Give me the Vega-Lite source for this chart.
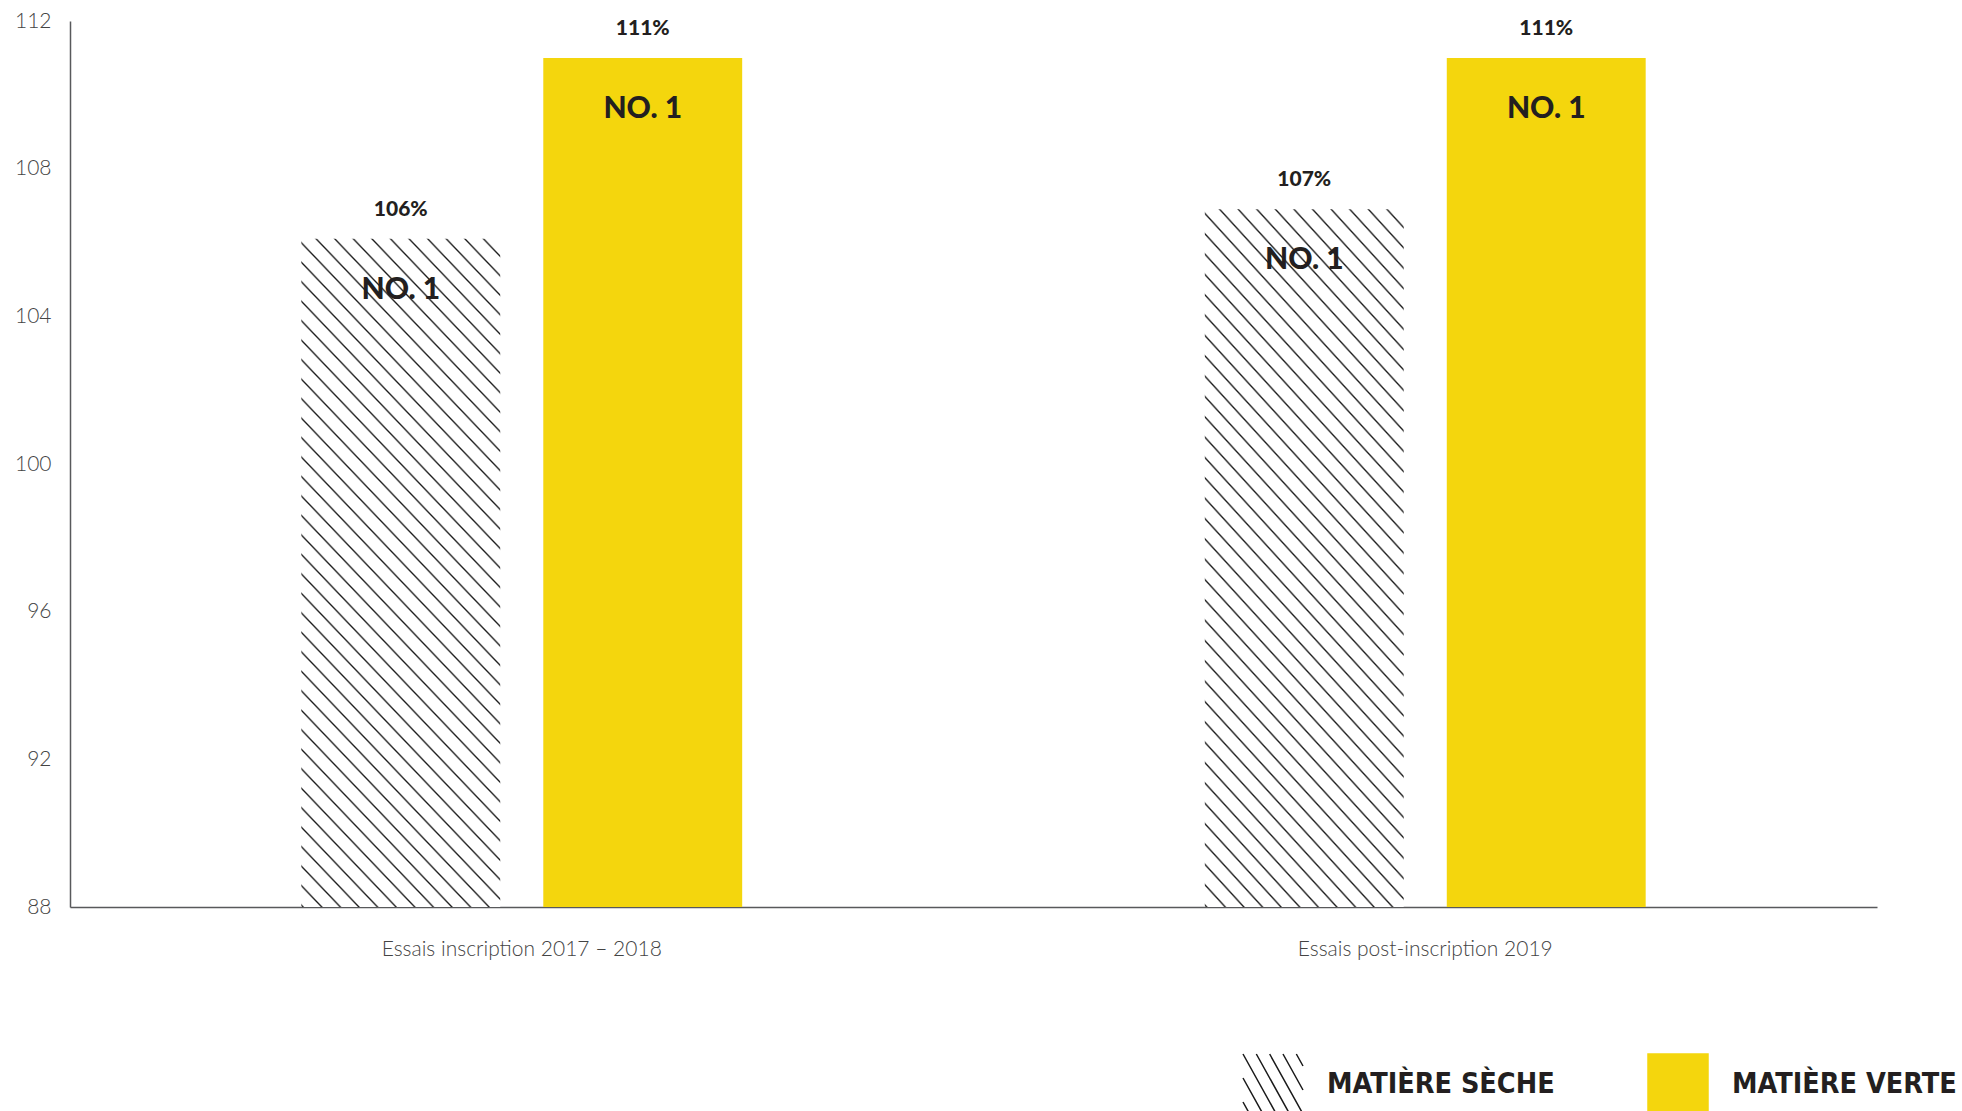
{
  "$schema": "https://vega.github.io/schema/vega-lite/v6.json",
  "width": 1807,
  "height": 886,
  "autosize": {"type": "none"},
  "padding": {"left": 70, "top": 21, "right": 85, "bottom": 204},
  "background": "white",
  "config": {"view": {"stroke": null}, "font": "Lato"},
  "data": {"values": [
    {"groupe": "Essais inscription 2017 – 2018", "type": "MATIÈRE SÈCHE", "valeur": 106.1, "etiquette": "106%", "rang": "NO. 1"},
    {"groupe": "Essais inscription 2017 – 2018", "type": "MATIÈRE VERTE", "valeur": 111, "etiquette": "111%", "rang": "NO. 1"},
    {"groupe": "Essais post-inscription 2019", "type": "MATIÈRE SÈCHE", "valeur": 106.9, "etiquette": "107%", "rang": "NO. 1"},
    {"groupe": "Essais post-inscription 2019", "type": "MATIÈRE VERTE", "valeur": 111, "etiquette": "111%", "rang": "NO. 1"}
  ]},
  "encoding": {
    "x": {
      "field": "groupe", "type": "nominal", "sort": null,
      "scale": {"paddingInner": 0, "paddingOuter": 0},
      "axis": {"title": null, "labelAngle": 0, "ticks": false, "tickSize": 0, "labelPadding": 31,
        "domainColor": "#58595b", "domainWidth": 1.5, "labelFont": "Lato", "labelFontWeight": 300,
        "labelFontSize": 21, "labelColor": "#444444", "labelLimit": 600}
    },
    "xOffset": {"field": "type", "type": "nominal", "sort": null,
      "scale": {"paddingInner": 0.178, "paddingOuter": 0.956}},
    "y": {
      "field": "valeur", "type": "quantitative",
      "scale": {"domain": [88, 112], "nice": false, "zero": false},
      "axis": {"title": null, "values": [88, 92, 96, 100, 104, 108, 112], "grid": false, "ticks": false,
        "tickSize": 0, "labelPadding": 19, "labelFlush": false, "domainColor": "#58595b", "domainWidth": 1.5,
        "labelFont": "Lato", "labelFontWeight": 300, "labelFontSize": 21, "labelColor": "#444444"}
    }
  },
  "layer": [
    {
      "mark": {"type": "bar"},
      "encoding": {
        "y2": {"datum": 88},
        "fill": {
          "condition": {
            "test": "datum.type === 'MATIÈRE SÈCHE'",
            "value": {"gradient": "linear", "x1": 1, "y1": 0, "x2": 0.6271, "y2": 1.1956, "stops": [
              {"offset": 0, "color": "#fff"},
              {"offset": 0.01778, "color": "#fff"}, {"offset": 0.02, "color": "#1a1a1a"}, {"offset": 0.02222, "color": "#fff"},
              {"offset": 0.04, "color": "#fff"}, {"offset": 0.04222, "color": "#1a1a1a"}, {"offset": 0.04444, "color": "#fff"},
              {"offset": 0.06222, "color": "#fff"}, {"offset": 0.06444, "color": "#1a1a1a"}, {"offset": 0.06667, "color": "#fff"},
              {"offset": 0.08444, "color": "#fff"}, {"offset": 0.08667, "color": "#1a1a1a"}, {"offset": 0.08889, "color": "#fff"},
              {"offset": 0.10667, "color": "#fff"}, {"offset": 0.10889, "color": "#1a1a1a"}, {"offset": 0.11111, "color": "#fff"},
              {"offset": 0.12889, "color": "#fff"}, {"offset": 0.13111, "color": "#1a1a1a"}, {"offset": 0.13333, "color": "#fff"},
              {"offset": 0.15111, "color": "#fff"}, {"offset": 0.15333, "color": "#1a1a1a"}, {"offset": 0.15556, "color": "#fff"},
              {"offset": 0.17333, "color": "#fff"}, {"offset": 0.17556, "color": "#1a1a1a"}, {"offset": 0.17778, "color": "#fff"},
              {"offset": 0.19556, "color": "#fff"}, {"offset": 0.19778, "color": "#1a1a1a"}, {"offset": 0.2, "color": "#fff"},
              {"offset": 0.21778, "color": "#fff"}, {"offset": 0.22, "color": "#1a1a1a"}, {"offset": 0.22222, "color": "#fff"},
              {"offset": 0.24, "color": "#fff"}, {"offset": 0.24222, "color": "#1a1a1a"}, {"offset": 0.24444, "color": "#fff"},
              {"offset": 0.26222, "color": "#fff"}, {"offset": 0.26444, "color": "#1a1a1a"}, {"offset": 0.26667, "color": "#fff"},
              {"offset": 0.28444, "color": "#fff"}, {"offset": 0.28667, "color": "#1a1a1a"}, {"offset": 0.28889, "color": "#fff"},
              {"offset": 0.30667, "color": "#fff"}, {"offset": 0.30889, "color": "#1a1a1a"}, {"offset": 0.31111, "color": "#fff"},
              {"offset": 0.32889, "color": "#fff"}, {"offset": 0.33111, "color": "#1a1a1a"}, {"offset": 0.33333, "color": "#fff"},
              {"offset": 0.35111, "color": "#fff"}, {"offset": 0.35333, "color": "#1a1a1a"}, {"offset": 0.35556, "color": "#fff"},
              {"offset": 0.37333, "color": "#fff"}, {"offset": 0.37556, "color": "#1a1a1a"}, {"offset": 0.37778, "color": "#fff"},
              {"offset": 0.39556, "color": "#fff"}, {"offset": 0.39778, "color": "#1a1a1a"}, {"offset": 0.4, "color": "#fff"},
              {"offset": 0.41778, "color": "#fff"}, {"offset": 0.42, "color": "#1a1a1a"}, {"offset": 0.42222, "color": "#fff"},
              {"offset": 0.44, "color": "#fff"}, {"offset": 0.44222, "color": "#1a1a1a"}, {"offset": 0.44444, "color": "#fff"},
              {"offset": 0.46222, "color": "#fff"}, {"offset": 0.46444, "color": "#1a1a1a"}, {"offset": 0.46667, "color": "#fff"},
              {"offset": 0.48444, "color": "#fff"}, {"offset": 0.48667, "color": "#1a1a1a"}, {"offset": 0.48889, "color": "#fff"},
              {"offset": 0.50667, "color": "#fff"}, {"offset": 0.50889, "color": "#1a1a1a"}, {"offset": 0.51111, "color": "#fff"},
              {"offset": 0.52889, "color": "#fff"}, {"offset": 0.53111, "color": "#1a1a1a"}, {"offset": 0.53333, "color": "#fff"},
              {"offset": 0.55111, "color": "#fff"}, {"offset": 0.55333, "color": "#1a1a1a"}, {"offset": 0.55556, "color": "#fff"},
              {"offset": 0.57333, "color": "#fff"}, {"offset": 0.57556, "color": "#1a1a1a"}, {"offset": 0.57778, "color": "#fff"},
              {"offset": 0.59556, "color": "#fff"}, {"offset": 0.59778, "color": "#1a1a1a"}, {"offset": 0.6, "color": "#fff"},
              {"offset": 0.61778, "color": "#fff"}, {"offset": 0.62, "color": "#1a1a1a"}, {"offset": 0.62222, "color": "#fff"},
              {"offset": 0.64, "color": "#fff"}, {"offset": 0.64222, "color": "#1a1a1a"}, {"offset": 0.64444, "color": "#fff"},
              {"offset": 0.66222, "color": "#fff"}, {"offset": 0.66444, "color": "#1a1a1a"}, {"offset": 0.66667, "color": "#fff"},
              {"offset": 0.68444, "color": "#fff"}, {"offset": 0.68667, "color": "#1a1a1a"}, {"offset": 0.68889, "color": "#fff"},
              {"offset": 0.70667, "color": "#fff"}, {"offset": 0.70889, "color": "#1a1a1a"}, {"offset": 0.71111, "color": "#fff"},
              {"offset": 0.72889, "color": "#fff"}, {"offset": 0.73111, "color": "#1a1a1a"}, {"offset": 0.73333, "color": "#fff"},
              {"offset": 0.75111, "color": "#fff"}, {"offset": 0.75333, "color": "#1a1a1a"}, {"offset": 0.75556, "color": "#fff"},
              {"offset": 0.77333, "color": "#fff"}, {"offset": 0.77556, "color": "#1a1a1a"}, {"offset": 0.77778, "color": "#fff"},
              {"offset": 0.79556, "color": "#fff"}, {"offset": 0.79778, "color": "#1a1a1a"}, {"offset": 0.8, "color": "#fff"},
              {"offset": 0.81778, "color": "#fff"}, {"offset": 0.82, "color": "#1a1a1a"}, {"offset": 0.82222, "color": "#fff"},
              {"offset": 0.84, "color": "#fff"}, {"offset": 0.84222, "color": "#1a1a1a"}, {"offset": 0.84444, "color": "#fff"},
              {"offset": 0.86222, "color": "#fff"}, {"offset": 0.86444, "color": "#1a1a1a"}, {"offset": 0.86667, "color": "#fff"},
              {"offset": 0.88444, "color": "#fff"}, {"offset": 0.88667, "color": "#1a1a1a"}, {"offset": 0.88889, "color": "#fff"},
              {"offset": 0.90667, "color": "#fff"}, {"offset": 0.90889, "color": "#1a1a1a"}, {"offset": 0.91111, "color": "#fff"},
              {"offset": 0.92889, "color": "#fff"}, {"offset": 0.93111, "color": "#1a1a1a"}, {"offset": 0.93333, "color": "#fff"},
              {"offset": 0.95111, "color": "#fff"}, {"offset": 0.95333, "color": "#1a1a1a"}, {"offset": 0.95556, "color": "#fff"},
              {"offset": 0.97333, "color": "#fff"}, {"offset": 0.97556, "color": "#1a1a1a"}, {"offset": 0.97778, "color": "#fff"},
              {"offset": 0.99556, "color": "#fff"}, {"offset": 0.99778, "color": "#1a1a1a"}, {"offset": 1, "color": "#fff"}
            ]}
          },
          "value": "#f4d60d"
        }
      }
    },
    {
      "mark": {"type": "point", "filled": true, "opacity": 0, "size": 1},
      "encoding": {
        "shape": {
          "field": "type", "type": "nominal", "sort": null,
          "scale": {"domain": ["MATIÈRE SÈCHE", "MATIÈRE VERTE"],
            "range": ["M0.778,-1L1,-0.6M0.333,-1L1,0.2M-0.111,-1L1,1M-0.556,-1L0.556,1M-1,-1L0.111,1M-1,-0.2L-0.333,1M-1,0.6L-0.778,1", "square"]},
          "legend": {
            "title": null, "orient": "none", "legendX": 1172, "legendY": 1032, "direction": "horizontal",
            "padding": 0, "symbolSize": 3600, "symbolStrokeWidth": 1.5, "symbolOpacity": 1,
            "labelFont": "Liberation Sans Narrow, DejaVu Sans Condensed, sans-serif", "labelFontSize": 28.5,
            "labelFontWeight": "bold", "labelColor": "#231f20", "labelOffset": 23, "columnPadding": 90,
            "labelLimit": 500
          }
        },
        "fill": {
          "field": "type", "type": "nominal", "sort": null,
          "scale": {"domain": ["MATIÈRE SÈCHE", "MATIÈRE VERTE"], "range": ["transparent", "#f4d60d"]},
          "legend": {
            "title": null, "orient": "none", "legendX": 1172, "legendY": 1032, "direction": "horizontal",
            "padding": 0, "symbolSize": 3600, "symbolStrokeWidth": 1.5, "symbolOpacity": 1,
            "labelFont": "Liberation Sans Narrow, DejaVu Sans Condensed, sans-serif", "labelFontSize": 28.5,
            "labelFontWeight": "bold", "labelColor": "#231f20", "labelOffset": 23, "columnPadding": 90,
            "labelLimit": 500
          }
        },
        "stroke": {
          "field": "type", "type": "nominal", "sort": null,
          "scale": {"domain": ["MATIÈRE SÈCHE", "MATIÈRE VERTE"], "range": ["#1a1a1a", "#f4d60d"]},
          "legend": {
            "title": null, "orient": "none", "legendX": 1172, "legendY": 1032, "direction": "horizontal",
            "padding": 0, "symbolSize": 3600, "symbolStrokeWidth": 1.5, "symbolOpacity": 1,
            "labelFont": "Liberation Sans Narrow, DejaVu Sans Condensed, sans-serif", "labelFontSize": 28.5,
            "labelFontWeight": "bold", "labelColor": "#231f20", "labelOffset": 23, "columnPadding": 90,
            "labelLimit": 500
          }
        }
      }
    },
    {
      "mark": {"type": "text", "dy": -29, "baseline": "middle", "align": "center", "font": "Lato",
        "fontWeight": 900, "fontSize": 21, "color": "#231f20"},
      "encoding": {"text": {"field": "etiquette", "type": "nominal"}}
    },
    {
      "mark": {"type": "text", "dy": 51, "baseline": "middle", "align": "center", "font": "Lato",
        "fontWeight": 900, "fontSize": 30, "color": "#231f20"},
      "encoding": {"text": {"field": "rang", "type": "nominal"}}
    }
  ]
}
